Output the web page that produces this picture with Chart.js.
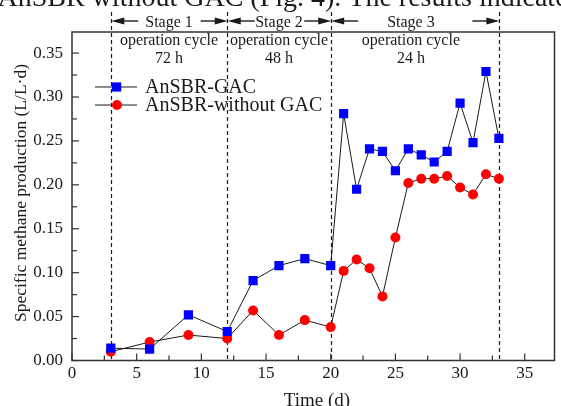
<!DOCTYPE html>
<html>
<head>
<meta charset="utf-8">
<script src="https://cdn.jsdelivr.net/npm/chart.js@4"></script>
<style>
  body { margin: 0; background: #fff; }
  canvas { display: block; }
</style>
</head>
<body>
<canvas id="chart" width="561" height="406"></canvas>
<script>
// Time (d) of each sampling
const days = [3, 6, 9, 12, 14, 16, 18, 20, 21, 22, 23, 24, 25, 26, 27, 28, 29, 30, 31, 32, 33];
// specific methane production (L/L·d)
const gacValues = [0.014, 0.013, 0.052, 0.033, 0.091, 0.108, 0.116, 0.108, 0.281, 0.195, 0.241, 0.238, 0.216, 0.241, 0.234, 0.226, 0.238, 0.293, 0.248, 0.329, 0.253];
const noGacValues = [0.010, 0.021, 0.029, 0.025, 0.057, 0.029, 0.046, 0.038, 0.102, 0.115, 0.105, 0.073, 0.140, 0.202, 0.207, 0.207, 0.210, 0.197, 0.189, 0.212, 0.207];

const stageBounds = [3, 12, 20, 33];
const stageLabels = ['Stage 1', 'Stage 2', 'Stage 3'];
const cycleLabels = ['72 h', '48 h', '24 h'];
const seriesNames = ['AnSBR-GAC', 'AnSBR-without GAC'];

const SERIF = '"Liberation Serif", "DejaVu Serif", serif';
const INK = '#1a1a1a';

function toPoints(values) {
    return days.map((d, i) => ({ x: d, y: values[i] }));
}

function arrow(ctx, from, to, y) {
    const dir = Math.sign(to - from);
    ctx.beginPath();
    ctx.moveTo(from, y);
    ctx.lineTo(to - dir * 10, y);
    ctx.stroke();
    ctx.beginPath();
    ctx.moveTo(to, y);
    ctx.lineTo(to - dir * 13, y - 3.5);
    ctx.lineTo(to - dir * 13, y + 3.5);
    ctx.closePath();
    ctx.fill();
}

const decorations = {
    id: 'decorations',
    beforeDatasetsDraw(chart) {
        const { ctx, chartArea: area, scales: { x } } = chart;
        ctx.save();
        ctx.strokeStyle = INK;
        ctx.lineWidth = 1.2;
        ctx.setLineDash([4, 3]);
        stageBounds.forEach(d => {
            const px = Math.round(x.getPixelForValue(d)) + 0.5;
            ctx.beginPath();
            ctx.moveTo(px, 12);
            ctx.lineTo(px, area.bottom);
            ctx.stroke();
        });
        ctx.restore();
    },
    afterDraw(chart) {
        const { ctx, chartArea: area, scales: { x, y } } = chart;
        const ds = chart.data.datasets;
        ctx.save();

        // page text cut off at the top
        ctx.fillStyle = INK;
        ctx.font = '28px ' + SERIF;
        ctx.textAlign = 'left';
        ctx.textBaseline = 'alphabetic';
        ctx.fillText('AnSBR without GAC (Fig. 4). The results indicated', -2.5, 6);

        // frame
        ctx.strokeStyle = '#333';
        ctx.lineWidth = 1.5;
        ctx.beginPath();
        ctx.rect(area.left, area.top, area.right - area.left, area.bottom - area.top);
        ctx.stroke();

        // inward ticks
        ctx.lineWidth = 1.2;
        for (let v = 0; v <= 37; v += 2.5) {
            const px = x.getPixelForValue(v);
            const len = v % 5 === 0 ? 7 : 5;
            ctx.beginPath();
            ctx.moveTo(px, area.bottom);
            ctx.lineTo(px, area.bottom - len);
            ctx.stroke();
        }
        for (let k = 0; k <= 14; k++) {
            const py = y.getPixelForValue(k * 0.025);
            const len = k % 2 === 0 ? 7 : 5;
            ctx.beginPath();
            ctx.moveTo(area.left, py);
            ctx.lineTo(area.left + len, py);
            ctx.stroke();
        }

        // stage headers with arrows
        ctx.fillStyle = INK;
        ctx.strokeStyle = INK;
        ctx.lineWidth = 1.4;
        ctx.font = '16px ' + SERIF;
        ctx.textAlign = 'center';
        ctx.textBaseline = 'middle';
        const textX = [7.5, 16, 26.2];
        stageLabels.forEach((label, i) => {
            const l = x.getPixelForValue(stageBounds[i]) + 0.5;
            const r = x.getPixelForValue(stageBounds[i + 1]) + 0.5;
            const cx = x.getPixelForValue(textX[i]);
            ctx.fillText(label, cx, 23);
            ctx.fillText('operation cycle', cx, 41);
            ctx.fillText(cycleLabels[i], cx, 59);
            arrow(ctx, l + 27, l, 21);
            arrow(ctx, r - 27, r, 21);
        });

        // legend
        ctx.font = '20px ' + SERIF;
        ctx.textAlign = 'left';
        [87, 105].forEach((ry, i) => {
            ctx.strokeStyle = INK;
            ctx.lineWidth = 1;
            ctx.beginPath();
            ctx.moveTo(95, ry);
            ctx.lineTo(137, ry);
            ctx.stroke();
            ctx.fillStyle = ds[i].pointBackgroundColor;
            if (i === 0) {
                ctx.fillRect(112, ry - 4.6, 9.2, 9.2);
            } else {
                ctx.beginPath();
                ctx.arc(117, ry, 5, 0, Math.PI * 2);
                ctx.fill();
            }
            ctx.fillStyle = INK;
            ctx.fillText(seriesNames[i], 145, ry + 1);
        });

        // axis titles
        ctx.font = '19px ' + SERIF;
        ctx.textAlign = 'center';
        ctx.fillText('Time (d)', (area.left + 245), 401);
        ctx.font = '17.5px ' + SERIF;
        ctx.translate(21, 193);
        ctx.rotate(-Math.PI / 2);
        ctx.fillText('Specific methane production (L/L\u00b7d)', 0, 0);
        ctx.restore();
    }
};

new Chart(document.getElementById('chart'), {
    type: 'line',
    data: {
        datasets: [{
                label: seriesNames[0],
                data: toPoints(gacValues),
                borderColor: INK,
                borderWidth: 1,
                pointStyle: 'rect',
                pointRadius: 6.5,
                pointBackgroundColor: '#0000ff',
                pointBorderWidth: 0,
                tension: 0
            },
            {
                label: seriesNames[1],
                data: toPoints(noGacValues),
                borderColor: INK,
                borderWidth: 1,
                pointStyle: 'circle',
                pointRadius: 5,
                pointBackgroundColor: '#ff0000',
                pointBorderWidth: 0,
                tension: 0
            }
        ]
    },
    options: {
        responsive: false,
        animation: false,
        layout: { padding: { top: 32, right: 2, left: 0, bottom: 0 } },
        scales: {
            x: {
                type: 'linear',
                min: 0,
                max: 37.3,
                grid: { display: false, drawTicks: false },
                border: { display: false },
                ticks: {
                    stepSize: 5,
                    includeBounds: false,
                    padding: 3,
                    color: INK,
                    font: { family: SERIF, size: 17 }
                },
                afterFit: s => { s.height = 45.5; }
            },
            y: {
                min: 0,
                max: 0.374,
                grid: { display: false, drawTicks: false },
                border: { display: false },
                ticks: {
                    stepSize: 0.05,
                    includeBounds: false,
                    padding: 9,
                    color: INK,
                    font: { family: SERIF, size: 17 },
                    callback: v => v.toFixed(2)
                },
                afterFit: s => { s.width = 72; }
            }
        },
        plugins: {
            legend: { display: false },
            tooltip: { enabled: false }
        }
    },
    plugins: [decorations]
});
</script>
</body>
</html>
